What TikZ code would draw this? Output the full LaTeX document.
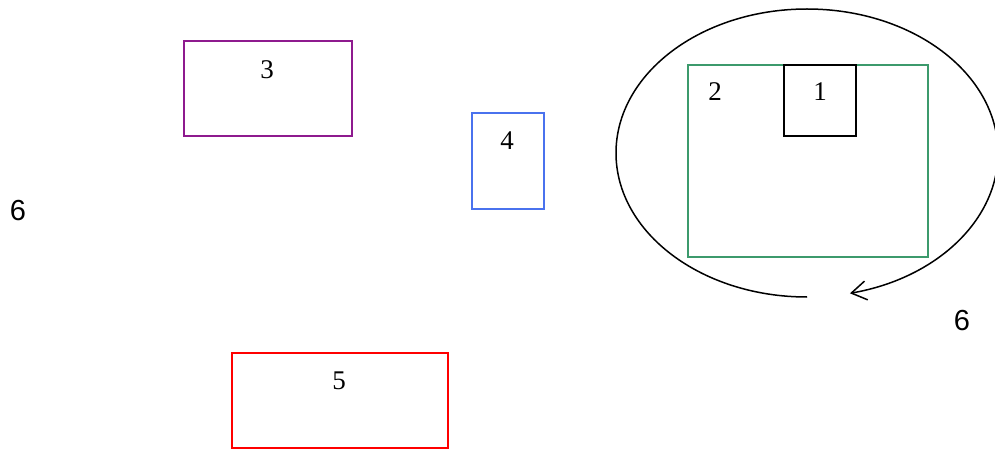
\documentclass[tikz,border=0pt]{standalone}
\usepackage{fontspec}
\setmainfont{Liberation Serif}
\newfontfamily\labelsans{Liberation Sans}
\usetikzlibrary{arrows.meta}
\definecolor{cpurple}{HTML}{8E1A8E}
\definecolor{cblue}{HTML}{4A72EE}
\definecolor{cgreen}{HTML}{3C9A6C}
\begin{document}
\begin{tikzpicture}[x=1pt,y=-1pt,
  boxline/.style={line width=1.4pt},
  numlab/.style={inner sep=0pt,font=\fontsize{27}{30}\selectfont},
  sixlab/.style={inner sep=0pt,font=\labelsans\fontsize{29}{32}\selectfont}]
\useasboundingbox (0,0) rectangle (995,449);
% boxes
\draw[cpurple,boxline] (184,41) rectangle (352,136);
\node[numlab] (n3) at (267,70) {3};
\draw[cblue,boxline] (472,113) rectangle (544,209);
\node[numlab] (n4) at (507,141) {4};
\draw[red,boxline] (232,353) rectangle (448,448);
\node[numlab] (n5) at (339,381) {5};
\draw[cgreen,boxline] (688,65) rectangle (928,257);
\node[numlab] (n2) at (715,92) {2};
\draw[black,boxline] (784,65) rectangle (856,136);
\node[numlab] (n1) at (820,92) {1};
% loop
\coordinate (loopstart) at (807,297);
\draw[line width=1.5pt,-{Straight Barb[length=15pt,width=19pt,line width=1.5pt]}] (loopstart) arc[start angle=90,end angle=437,x radius=191,y radius=144];
% labels 6
\node[sixlab] (s6a) at (18,211) {6};
\node[sixlab] (s6b) at (962,321) {6};
\end{tikzpicture}
\end{document}
